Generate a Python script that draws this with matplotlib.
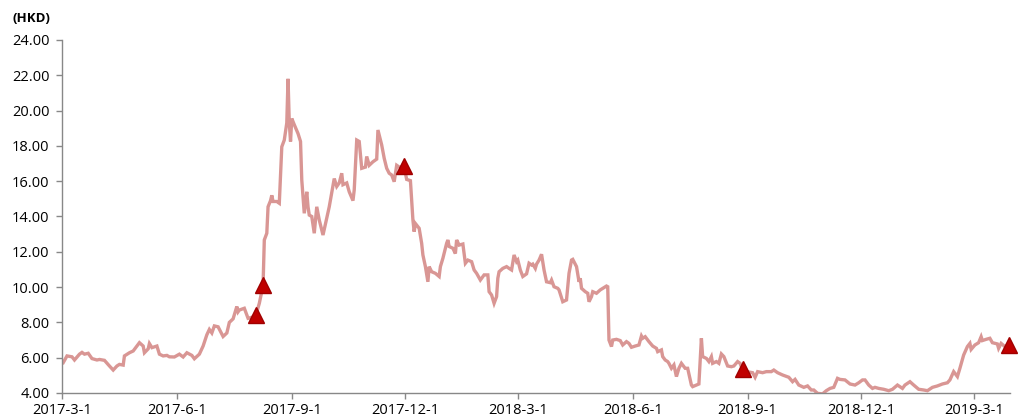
import matplotlib
matplotlib.use("Agg")
import matplotlib.pyplot as plt
import numpy as np
import pandas as pd

plt.rcParams['font.family'] = ['Open Sans', 'DejaVu Sans']

# start of the series; day offsets below are counted from here
start = pd.Timestamp("2017-03-01")

# price (HKD)
days = [1, 4, 8, 10, 14, 16, 18, 21, 24, 28, 30, 34, 38, 41, 44, 46, 49, 50, 54, 57,
        60, 62, 65, 66, 69, 70, 72, 76, 78, 81, 84, 86, 90, 94, 97, 100, 104, 106, 110, 113,
        116, 118, 120, 122, 125, 129, 132, 134, 137, 140, 141, 142, 146, 149, 155, 158, 161, 162, 164, 165,
        167, 168, 169, 172, 174, 176, 178, 180, 181, 182, 183, 184, 186, 189, 191, 192, 194, 196, 197, 198,
        200, 202, 204, 206, 209, 211, 214, 218, 220, 222, 224, 225, 228, 230, 233, 234, 236, 238, 240, 243,
        244, 246, 249, 252, 253, 256, 258, 260, 262, 264, 266, 268, 270, 274, 276, 279, 281, 282, 283, 286,
        288, 289, 291, 293, 294, 296, 299, 302, 303, 305, 308, 309, 310, 313, 315, 316, 318, 321, 323, 325,
        328, 330, 332, 335, 338, 341, 342, 344, 346, 348, 349, 350, 353, 356, 358, 360, 362, 364, 365, 367,
        369, 372, 374, 376, 377, 379, 380, 382, 384, 386, 388, 391, 392, 394, 397, 398, 401, 404, 406, 408,
        409, 412, 414, 415, 416, 419, 421, 422, 424, 425, 428, 431, 433, 436, 437, 438, 440, 441, 444, 447,
        449, 452, 454, 456, 459, 462, 464, 465, 467, 470, 473, 476, 477, 480, 481, 483, 485, 486, 488, 490,
        492, 494, 496, 499, 501, 504, 505, 508, 510, 512, 513, 516, 518, 520, 521, 524, 526, 528, 530, 533,
        536, 538, 541, 543, 545, 549, 553, 555, 557, 561, 564, 568, 570, 573, 577, 582, 585, 587, 590, 594,
        597, 600, 602, 605, 609, 612, 615, 618, 621, 623, 627, 631, 635, 638, 641, 643, 646, 649, 651, 654,
        658, 662, 665, 669, 673, 675, 679, 682, 686, 690, 693, 697, 701, 705, 709, 711, 714, 717, 719, 722,
        725, 727, 728, 731, 734, 736, 737, 740, 743, 745, 749, 750, 752, 755, 758]
price = [5.72, 6.10, 6.05, 5.87, 6.20, 6.30, 6.20, 6.25, 5.95, 5.87, 5.90, 5.85, 5.53, 5.30, 5.53, 5.62, 5.58, 6.10, 6.28, 6.38,
         6.66, 6.85, 6.66, 6.28, 6.50, 6.80, 6.57, 6.66, 6.20, 6.10, 6.13, 6.05, 6.04, 6.20, 6.04, 6.28, 6.13, 5.94, 6.20, 6.66,
         7.30, 7.60, 7.40, 7.80, 7.75, 7.20, 7.40, 8.00, 8.20, 8.90, 8.60, 8.70, 8.80, 8.23, 8.35, 9.08, 10.10, 12.67, 13.05, 14.55,
         14.90, 15.20, 14.85, 14.85, 14.75, 17.95, 18.33, 19.30, 21.80, 19.30, 18.25, 19.55, 19.20, 18.70, 18.25, 16.07, 14.18, 15.40, 14.55, 14.08,
         14.00, 13.05, 14.55, 13.80, 12.95, 13.60, 14.55, 16.15, 15.70, 15.90, 16.45, 15.80, 15.90, 15.40, 14.90, 15.50, 18.33, 18.25, 16.73, 16.80,
         17.40, 16.90, 17.10, 17.25, 18.90, 18.05, 17.30, 16.73, 16.45, 16.35, 15.97, 16.90, 16.80, 16.80, 16.10, 16.03, 13.80, 13.14, 13.60, 13.33,
         12.48, 11.82, 11.16, 10.30, 11.16, 10.87, 10.78, 10.60, 11.16, 11.63, 12.48, 12.67, 12.30, 12.20, 11.90, 12.67, 12.38, 12.44, 11.35, 11.53,
         11.44, 10.97, 10.78, 10.40, 10.69, 10.69, 9.74, 9.55, 9.08, 9.46, 10.50, 10.87, 11.06, 11.16, 11.06, 10.97, 11.82, 11.44, 11.53, 10.97,
         10.60, 10.75, 11.35, 11.25, 11.30, 11.06, 11.30, 11.53, 11.86, 10.97, 10.30, 10.25, 10.40, 10.02, 9.93, 9.84, 9.17, 9.27, 10.78, 11.53,
         11.57, 11.16, 10.30, 10.50, 9.93, 9.74, 9.65, 9.17, 9.46, 9.74, 9.65, 9.84, 9.93, 10.06, 10.02, 7.00, 6.63, 7.00, 7.04, 6.97,
         6.72, 6.91, 6.81, 6.59, 6.66, 6.72, 7.23, 7.10, 7.19, 6.91, 6.66, 6.53, 6.34, 6.44, 6.06, 5.87, 5.78, 5.68, 5.40, 5.59,
         4.93, 5.40, 5.68, 5.40, 5.40, 4.45, 4.36, 4.45, 4.51, 7.10, 6.06, 5.96, 5.78, 6.06, 5.68, 5.78, 5.68, 6.21, 6.06, 5.53,
         5.49, 5.53, 5.78, 5.68, 5.30, 5.20, 5.15, 4.89, 5.21, 5.15, 5.21, 5.21, 5.30, 5.15, 5.02, 4.89, 4.64, 4.77, 4.45, 4.32,
         4.40, 4.17, 4.17, 3.98, 3.95, 4.13, 4.26, 4.32, 4.83, 4.77, 4.74, 4.51, 4.45, 4.58, 4.74, 4.74, 4.45, 4.26, 4.32, 4.26,
         4.21, 4.13, 4.21, 4.45, 4.26, 4.45, 4.64, 4.45, 4.21, 4.17, 4.13, 4.32, 4.40, 4.51, 4.58, 4.74, 5.21, 4.93, 5.40, 6.15,
         6.63, 6.81, 6.47, 6.72, 6.85, 7.19, 6.97, 7.04, 7.10, 6.85, 6.78, 6.53, 6.81, 6.63, 6.66]

# buy signals
signal_days = [155, 161, 274, 545, 758]
signal_price = [8.40, 10.10, 16.85, 5.35, 6.70]

tick_dates = ["2017-3-1", "2017-6-1", "2017-9-1", "2017-12-1", "2018-3-1",
              "2018-6-1", "2018-9-1", "2018-12-1", "2019-3-1"]

dates = start + pd.to_timedelta(days, unit="D")
sig_dates = start + pd.to_timedelta(signal_days, unit="D")

fig = plt.figure(figsize=(10.18, 4.2), dpi=100)
ax = fig.add_axes([0.0609, 0.0643, 0.9311, 0.8405])

ax.plot(dates, price, color="#D99694", lw=2.4, solid_joinstyle="miter", zorder=2)
ax.plot(sig_dates, signal_price, linestyle="none", marker="^", markersize=11,
        color="#C00000", markeredgecolor="#A00000", zorder=3, clip_on=False)

ax.set_xlim(start, start + pd.Timedelta(days=759))
ax.set_ylim(4, 24)
ax.set_yticks(np.arange(4, 24.1, 2))
ax.yaxis.set_major_formatter(plt.FuncFormatter(lambda v, p: "%.2f" % v))

ticks = pd.to_datetime(tick_dates)
ax.set_xticks(ticks)
ax.set_xticklabels(tick_dates)

for s in ["top", "right"]:
    ax.spines[s].set_visible(False)
for s in ["left", "bottom"]:
    ax.spines[s].set_color("#888888")
    ax.spines[s].set_linewidth(1)
ax.tick_params(axis="both", colors="#888888", length=4, width=1, labelcolor="black", labelsize=10.5)
ax.tick_params(axis="y", pad=5)
ax.tick_params(axis="x", pad=3)

fig.text(0.012, 0.955, "(HKD)", fontsize=9.5, fontweight="bold", ha="left", va="center")

fig.savefig("out.png", dpi=100)
